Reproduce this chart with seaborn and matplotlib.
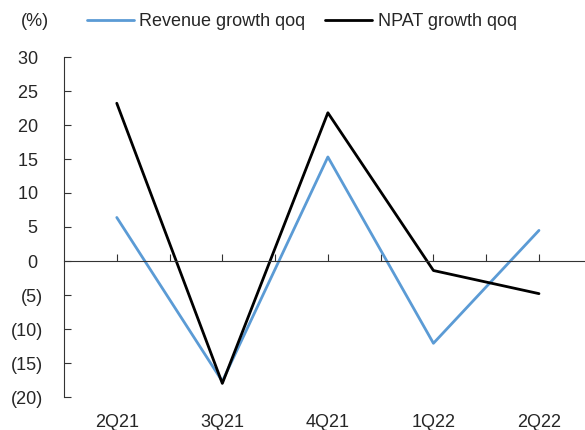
import numpy as np
import pandas as pd
import matplotlib
matplotlib.use("Agg")
import matplotlib.pyplot as plt
import seaborn as sns

quarters = ["2Q21", "3Q21", "4Q21", "1Q22", "2Q22"]
revenue_growth = [6.4, -17.7, 15.3, -12.1, 4.5]
npat_growth = [23.2, -18.0, 21.8, -1.4, -4.8]
series_names = ["Revenue growth qoq", "NPAT growth qoq"]
y_ticks = [-20, -15, -10, -5, 0, 5, 10, 15, 20, 25, 30]

data = pd.DataFrame({
    "x": list(range(len(quarters))) * 2,
    "value": revenue_growth + npat_growth,
    "series": [series_names[0]] * len(quarters) + [series_names[1]] * len(quarters),
})

sns.set_style("white")
plt.rcParams["font.family"] = ["Liberation Sans", "DejaVu Sans"]
fs = 13

fig = plt.figure(figsize=(5.85, 4.3), dpi=100)
ax = fig.add_axes([64 / 585, 1 - 397 / 430, 1 - 64 / 585, (397 - 57) / 430])

sns.lineplot(data=data, x="x", y="value", hue="series", sort=False,
             palette={series_names[0]: "#5B9BD5", series_names[1]: "black"},
             linewidth=2.0, ax=ax, legend=False)

ax.set_ylim(-20, 30)
ax.set_xlim(-0.5, 4.436)
ax.set_yticks(y_ticks)
ax.set_yticklabels([f"({abs(v)})" if v < 0 else f"{v} " for v in y_ticks], fontsize=fs)
ax.tick_params(axis="y", direction="in", length=5, width=0.8, color="#333333", pad=15, left=True)

# zero line with tick marks every half category
ax.spines["bottom"].set_position(("data", 0))
ax.spines["bottom"].set_color("#333333")
ax.spines["bottom"].set_linewidth(0.8)
ax.set_xticks(np.arange(0, 4.5, 0.5))
ax.tick_params(axis="x", direction="in", length=5, width=0.8, color="#333333",
               labelbottom=False, bottom=True)
for s in ["top", "right"]:
    ax.spines[s].set_visible(False)
ax.spines["left"].set_color("#333333")
ax.spines["left"].set_linewidth(0.8)
ax.set_xlabel("")
ax.set_ylabel("")

secax = ax.secondary_xaxis("bottom")
secax.set_xticks(range(len(quarters)))
secax.set_xticklabels(quarters, fontsize=fs)
secax.tick_params(length=0, pad=12)
secax.spines["bottom"].set_visible(False)

fig.text(35 / 585, 1 - 22 / 430, "(%)", ha="center", va="center", fontsize=fs)

handles = [plt.Line2D([], [], color="#5B9BD5", linewidth=2.0),
           plt.Line2D([], [], color="black", linewidth=2.0)]
fig.legend(handles, series_names, loc="center left", bbox_to_anchor=(87 / 585, 1 - 22 / 430),
           ncol=2, frameon=False, fontsize=fs, handlelength=2.6, handletextpad=0.3,
           columnspacing=1.1, borderpad=0, borderaxespad=0)

fig.savefig("out.png", dpi=100)
